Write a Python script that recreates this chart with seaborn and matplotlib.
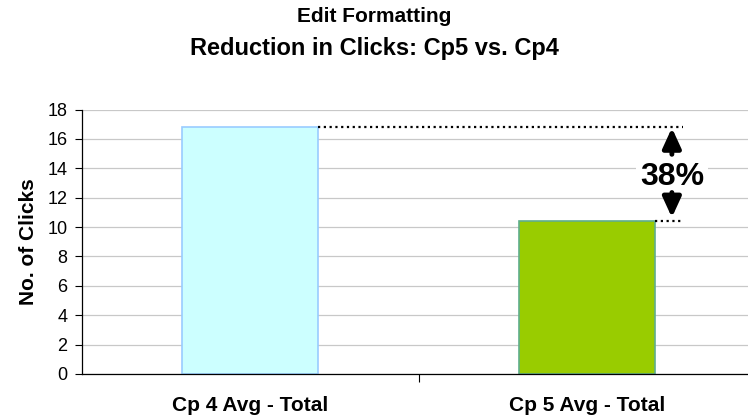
import matplotlib
matplotlib.use("Agg")
import matplotlib.pyplot as plt
import seaborn as sns

# Chart data
categories = ["Cp 4 Avg - Total", "Cp 5 Avg - Total"]
clicks = [16.8, 10.4]
fill_colors = ["#CCFFFF", "#99CC00"]
edge_colors = ["#99CCFF", "#5FAE8C"]
y_ticks = [0, 2, 4, 6, 8, 10, 12, 14, 16, 18]
reduction_label = "38%"

sns.set_style("white")
plt.rcParams["font.family"] = ["Liberation Sans", "DejaVu Sans"]
plt.rcParams["text.color"] = "black"
plt.rcParams["axes.labelcolor"] = "black"
plt.rcParams["xtick.color"] = "black"
plt.rcParams["ytick.color"] = "black"

fig = plt.figure(figsize=(7.48, 4.18), dpi=100)
ax = fig.add_axes([82 / 748, 1 - 374 / 418, 673 / 748, 264.5 / 418])

sns.barplot(x=categories, y=clicks, hue=categories, palette=fill_colors,
            saturation=1, width=0.404, legend=False, ax=ax, zorder=2)
for bar, ec in zip(ax.patches, edge_colors):
    bar.set_edgecolor(ec)
    bar.set_linewidth(1.2)

ax.set_ylim(0, 18)
ax.set_xlim(-0.5, 1.5)
ax.set_yticks(y_ticks)
ax.grid(axis="y", color="#C8C8C8", linewidth=0.9, zorder=0)
ax.set_axisbelow(True)
for s in ["top", "right"]:
    ax.spines[s].set_visible(False)
ax.spines["left"].set_color("black")
ax.spines["bottom"].set_color("black")
ax.spines["left"].set_linewidth(0.9)
ax.spines["bottom"].set_linewidth(0.9)

ax.tick_params(axis="y", left=True, length=5, width=0.8, labelsize=13, pad=5.5)
ax.tick_params(axis="x", which="major", length=0, labelsize=15, pad=16)
ax.set_xticks([0.5], minor=True)
ax.tick_params(axis="x", which="minor", bottom=True, length=6, width=0.8)
for lbl in ax.get_xticklabels():
    lbl.set_fontweight("bold")
ax.set_ylabel("No. of Clicks", fontsize=15, fontweight="bold", labelpad=7)
ax.set_xlabel("")

# reduction annotation
half = 0.404 / 2
x_end = 1.286
x_arrow = 1.253
ax.plot([0 + half, x_end], [clicks[0], clicks[0]], color="black",
        linestyle=(0, (1, 1.6)), linewidth=1.6, zorder=3)
ax.plot([1 + half, x_end], [clicks[1], clicks[1]], color="black",
        linestyle=(0, (1, 1.6)), linewidth=1.6, zorder=3)
arrow_style = dict(arrowstyle="-|>,head_width=0.55,head_length=1.2",
                   color="black", lw=3.5, shrinkA=0, shrinkB=0)
ax.annotate("", xy=(x_arrow, clicks[0] - 0.05), xytext=(x_arrow, clicks[0] - 1.85),
            arrowprops=arrow_style, zorder=6)
ax.annotate("", xy=(x_arrow, clicks[1] + 0.25), xytext=(x_arrow, clicks[1] + 1.95),
            arrowprops=arrow_style, zorder=6)
ax.text(x_arrow, 12.87, reduction_label, ha="center", va="baseline",
        fontsize=23, fontweight="bold", zorder=5,
        bbox=dict(facecolor="white", edgecolor="none", pad=3))

fig.text(0.5, 1 - 16 / 418, "Edit Formatting", ha="center", va="center",
         fontsize=15, fontweight="bold")
fig.text(0.5, 1 - 48 / 418, "Reduction in Clicks: Cp5 vs. Cp4", ha="center",
         va="center", fontsize=17, fontweight="bold")

fig.savefig("out.png", dpi=100)
